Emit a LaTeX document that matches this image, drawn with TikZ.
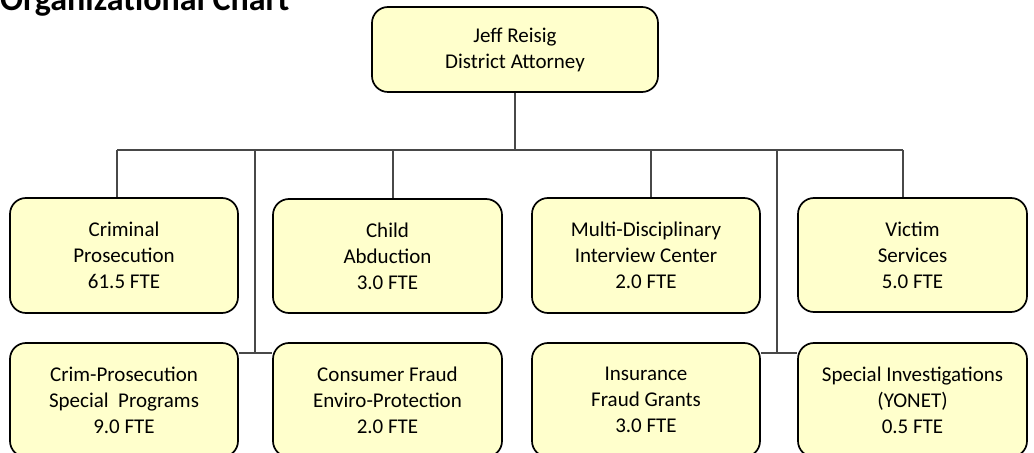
\documentclass[tikz,border=0pt]{standalone}
\usepackage{fontspec}
\setmainfont{Carlito}
\begin{document}
\begin{tikzpicture}[x=1bp,y=-1bp,
  unit/.style={draw=black, line width=1.7bp, fill=boxfill, rounded corners=16bp,
    align=center, inner sep=0pt, font=\fontsize{21bp}{26bp}\selectfont},
  wire/.style={draw=wirecol, line width=1.3bp}]
\definecolor{boxfill}{RGB}{255,255,204}
\definecolor{wirecol}{RGB}{72,72,72}
\useasboundingbox (0,0) rectangle (1034,453);
\clip (0,0) rectangle (1034,453);
% title
\node[anchor=base west, inner sep=0pt, font=\fontsize{34bp}{37bp}\selectfont\bfseries] (title) at (0,11) {Organizational Chart};
% top
\node[unit, minimum width=286bp, minimum height=85bp] (top) at (515,49.5) {Jeff Reisig\\District Attorney};
% row 1
\node[unit, minimum width=228bp, minimum height=115bp] (b1) at (124,255.5) {Criminal\\Prosecution\\61.5 FTE};
\node[unit, minimum width=229bp, minimum height=114bp] (b2) at (387.5,256) {Child\\Abduction\\3.0 FTE};
\node[unit, minimum width=228bp, minimum height=115bp] (b3) at (646,255.5) {Multi-Disciplinary\\Interview Center\\2.0 FTE};
\node[unit, minimum width=229bp, minimum height=114bp] (b4) at (912.5,255) {Victim\\Services\\5.0 FTE};
% row 2
\node[unit, minimum width=228bp, minimum height=114bp] (b5) at (124,400) {Crim-Prosecution\\Special\ \ Programs\\9.0 FTE};
\node[unit, minimum width=229bp, minimum height=114bp] (b6) at (387.5,400) {Consumer Fraud\\Enviro-Protection\\2.0 FTE};
\node[unit, minimum width=228bp, minimum height=114bp] (b7) at (646,400) {Insurance\\Fraud Grants\\3.0 FTE};
\node[unit, minimum width=229bp, minimum height=114bp] (b8) at (912.5,400) {Special Investigations\\(YONET)\\0.5 FTE};
% connectors
\coordinate (busL) at (117,150);
\coordinate (busR) at (903,150);
\coordinate (d2) at (393,150);
\coordinate (d3) at (651,150);
\coordinate (tL) at (255,150);
\coordinate (tR) at (777,150);
\coordinate (jL) at (255,353);
\coordinate (jR) at (777,353);
\draw[wire] (top.south) -- (top.south |- busL);
\draw[wire] (busL) -- (busR);
\draw[wire] (busL) -- (busL |- b1.north);
\draw[wire] (d2) -- (d2 |- b2.north);
\draw[wire] (d3) -- (d3 |- b3.north);
\draw[wire] (busR) -- (busR |- b4.north);
\draw[wire] (tL) -- (jL);
\draw[wire] (tR) -- (jR);
\draw[wire] (b5.east |- jL) -- (b6.west |- jL);
\draw[wire] (b7.east |- jR) -- (b8.west |- jR);
\end{tikzpicture}
\end{document}
